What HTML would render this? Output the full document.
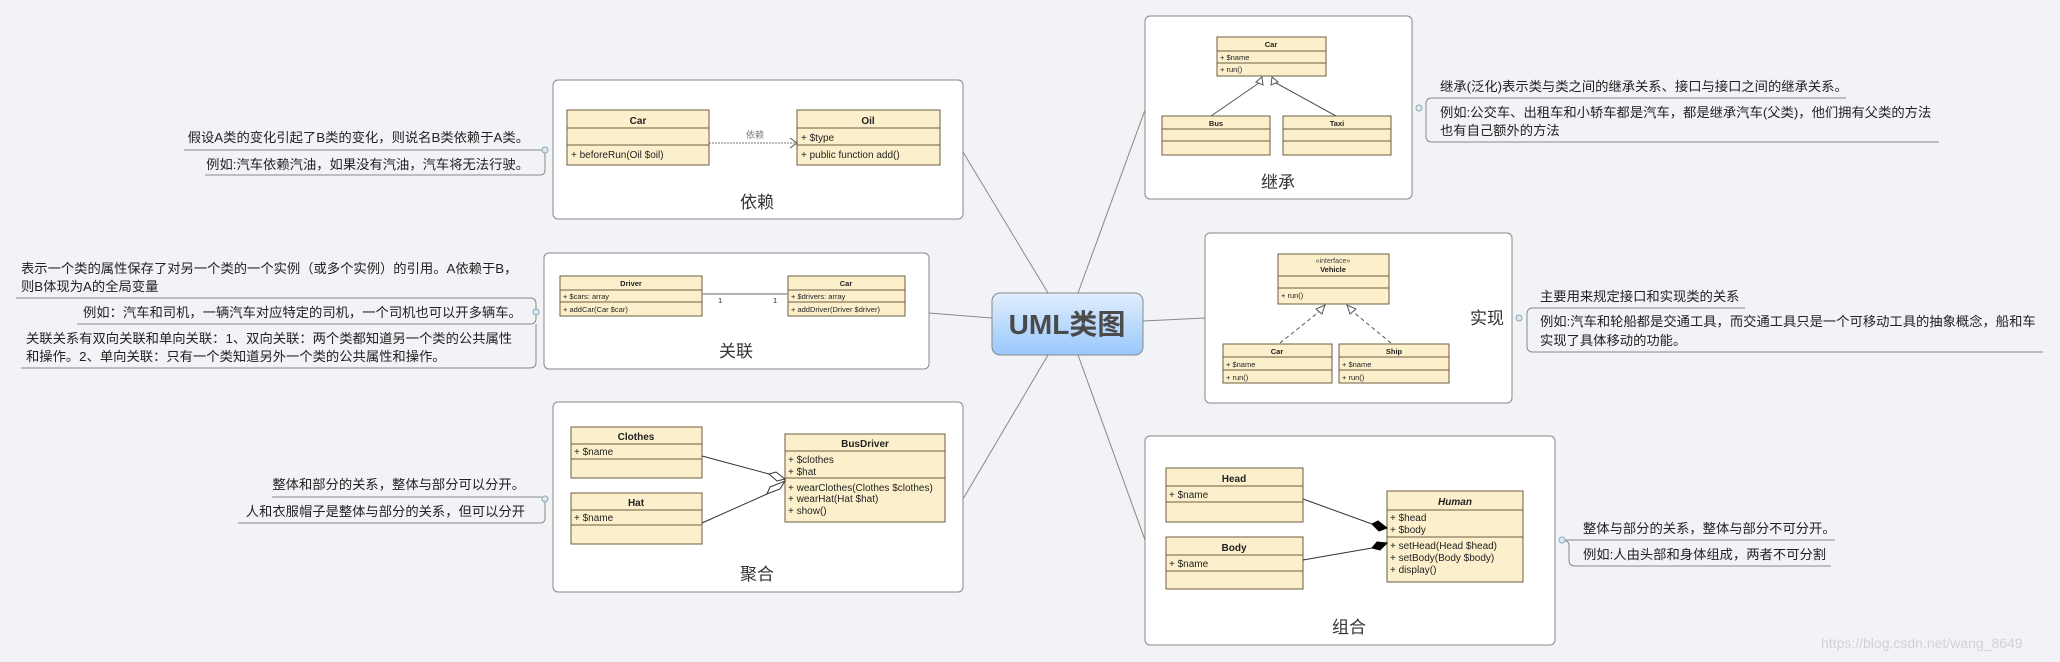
<!DOCTYPE html>
<html><head><meta charset="utf-8"><style>
html,body{margin:0;padding:0;background:#f2f3f7;}
svg{display:block;}
text{font-family:"Liberation Sans","Noto Sans CJK SC",sans-serif;fill:#222;}
.n{font-size:13.3px;}
.lb{font-size:17px;fill:#333;}
.cls{fill:#fcf0cc;stroke:#6e5d3e;stroke-width:1;}
.c{font-size:10px;}
.cb{font-size:10px;font-weight:bold;}
.s{font-size:7.5px;}
.sb{font-size:7.5px;font-weight:bold;}
.box{fill:#fff;stroke:#888;stroke-width:1;}
.ul{stroke:#888;stroke-width:1;fill:none;}
.br{stroke:#888;stroke-width:1;fill:none;}
</style></head><body>
<svg width="2060" height="662" viewBox="0 0 2060 662">
<defs>
<linearGradient id="g" x1="0" y1="0" x2="0" y2="1"><stop offset="0" stop-color="#e1eefd"/><stop offset="1" stop-color="#98c8fb"/></linearGradient>
</defs>
<path class="br" d="M963 152 L1048 293"/>
<path class="br" d="M929 313 L992 318"/>
<path class="br" d="M963 499 L1048 355"/>
<path class="br" d="M1145 110 L1078 293"/>
<path class="br" d="M1205 318 L1143 321"/>
<path class="br" d="M1145 540 L1078 355"/>
<rect x="992" y="293" width="151" height="62" rx="8" fill="url(#g)" stroke="#888"/>
<text x="1067" y="334" text-anchor="middle" style="font-size:28px;font-weight:bold;fill:#4a4a4a">UML类图</text>

<rect class="box" x="553" y="80" width="410" height="139" rx="5"/>
<rect class="cls" x="567" y="110" width="142" height="55"/>
<line class="cls" x1="567" y1="128" x2="709" y2="128"/><line class="cls" x1="567" y1="145" x2="709" y2="145"/>
<text class="cb" x="638" y="124" text-anchor="middle">Car</text>
<text class="c" x="571" y="158">+ beforeRun(Oil $oil)</text>
<rect class="cls" x="797" y="110" width="143" height="55"/>
<line class="cls" x1="797" y1="128" x2="940" y2="128"/><line class="cls" x1="797" y1="145" x2="940" y2="145"/>
<text class="cb" x="868" y="124" text-anchor="middle">Oil</text>
<text class="c" x="801" y="141">+ $type</text>
<text class="c" x="801" y="158">+ public function add()</text>
<line x1="709" y1="143" x2="797" y2="143" stroke="#777" stroke-dasharray="2,1"/>
<path d="M790 138 L797 143 L790 148" fill="none" stroke="#555"/>
<text x="755" y="138" text-anchor="middle" style="font-size:9px;fill:#777">依赖</text>
<text class="lb" x="757" y="208" text-anchor="middle">依赖</text>
<text class="n" x="529" y="142" text-anchor="end">假设A类的变化引起了B类的变化，则说名B类依赖于A类。</text>
<path class="ul" d="M184 150 L540 150 Q545 150 545 155 L545 170 Q545 175 540 175 L205 175"/>
<text class="n" x="529" y="169" text-anchor="end">例如:汽车依赖汽油，如果没有汽油，汽车将无法行驶。</text>
<circle cx="545" cy="150" r="3" fill="#dde8fb" stroke="#8aa"/>

<rect class="box" x="544" y="253" width="385" height="116" rx="5"/>
<rect class="cls" x="560" y="276" width="142" height="40"/>
<line class="cls" x1="560" y1="290" x2="702" y2="290"/><line class="cls" x1="560" y1="302" x2="702" y2="302"/>
<text class="sb" x="631" y="286" text-anchor="middle">Driver</text>
<text class="s" x="563" y="299">+ $cars: array</text>
<text class="s" x="563" y="312">+ addCar(Car $car)</text>
<rect class="cls" x="788" y="276" width="117" height="40"/>
<line class="cls" x1="788" y1="290" x2="905" y2="290"/><line class="cls" x1="788" y1="302" x2="905" y2="302"/>
<text class="sb" x="846" y="286" text-anchor="middle">Car</text>
<text class="s" x="791" y="299">+ $drivers: array</text>
<text class="s" x="791" y="312">+ addDriver(Driver $driver)</text>
<line x1="702" y1="294" x2="788" y2="294" stroke="#999" stroke-width="1.5"/>
<text class="s" x="718" y="303">1</text><text class="s" x="773" y="303">1</text>
<text class="lb" x="736" y="357" text-anchor="middle">关联</text>
<text class="n" x="21" y="273">表示一个类的属性保存了对另一个类的一个实例（或多个实例）的引用。A依赖于B，</text>
<text class="n" x="21" y="291">则B体现为A的全局变量</text>
<path class="ul" d="M16 298 L530 298 Q536 298 536 304 L536 318 Q536 324 530 324 L77 324"/>
<text class="n" x="83" y="317">例如：汽车和司机，一辆汽车对应特定的司机，一个司机也可以开多辆车。</text>
<text class="n" x="26" y="343">关联关系有双向关联和单向关联：1、双向关联：两个类都知道另一个类的公共属性</text>
<text class="n" x="26" y="361">和操作。2、单向关联：只有一个类知道另外一个类的公共属性和操作。</text>
<path class="ul" d="M536 324 L536 362 Q536 368 530 368 L21 368"/>
<circle cx="536" cy="312" r="3" fill="#dde8fb" stroke="#8aa"/>

<rect class="box" x="553" y="402" width="410" height="190" rx="5"/>
<rect class="cls" x="571" y="427" width="131" height="51"/>
<line class="cls" x1="571" y1="444" x2="702" y2="444"/><line class="cls" x1="571" y1="459" x2="702" y2="459"/>
<text class="cb" x="636" y="440" text-anchor="middle">Clothes</text>
<text class="c" x="574" y="455">+ $name</text>
<rect class="cls" x="571" y="493" width="131" height="51"/>
<line class="cls" x1="571" y1="510" x2="702" y2="510"/><line class="cls" x1="571" y1="525" x2="702" y2="525"/>
<text class="cb" x="636" y="506" text-anchor="middle">Hat</text>
<text class="c" x="574" y="521">+ $name</text>
<rect class="cls" x="785" y="434" width="160" height="88"/>
<line class="cls" x1="785" y1="451" x2="945" y2="451"/><line class="cls" x1="785" y1="478" x2="945" y2="478"/>
<text class="cb" x="865" y="447" text-anchor="middle">BusDriver</text>
<text class="c" x="788" y="463">+ $clothes</text>
<text class="c" x="788" y="475">+ $hat</text>
<text class="c" x="788" y="491">+ wearClothes(Clothes $clothes)</text>
<text class="c" x="788" y="502">+ wearHat(Hat $hat)</text>
<text class="c" x="788" y="514">+ show()</text>
<line x1="702" y1="456" x2="769" y2="474" stroke="#333"/>
<path d="M769 474 L776 472 L785 479 L777 481 Z" fill="#fff" stroke="#333"/>
<line x1="702" y1="523" x2="767" y2="494" stroke="#333"/>
<path d="M767 494 L770 487 L785 481 L780 489 Z" fill="#fff" stroke="#333"/>
<text class="lb" x="757" y="580" text-anchor="middle">聚合</text>
<text class="n" x="525" y="489" text-anchor="end">整体和部分的关系，整体与部分可以分开。</text>
<path class="ul" d="M272 497 L540 497 Q545 497 545 502 L545 518 Q545 523 540 523 L238 523"/>
<text class="n" x="525" y="516" text-anchor="end">人和衣服帽子是整体与部分的关系，但可以分开</text>
<circle cx="545" cy="499" r="3" fill="#dde8fb" stroke="#8aa"/>

<rect class="box" x="1145" y="16" width="267" height="183" rx="5"/>
<rect class="cls" x="1217" y="37" width="109" height="39"/>
<line class="cls" x1="1217" y1="51" x2="1326" y2="51"/><line class="cls" x1="1217" y1="63" x2="1326" y2="63"/>
<text class="sb" x="1271" y="47" text-anchor="middle">Car</text>
<text class="s" x="1220" y="60">+ $name</text><text class="s" x="1220" y="72">+ run()</text>
<rect class="cls" x="1162" y="116" width="108" height="39"/>
<line class="cls" x1="1162" y1="129" x2="1270" y2="129"/><line class="cls" x1="1162" y1="141" x2="1270" y2="141"/>
<text class="sb" x="1216" y="126" text-anchor="middle">Bus</text>
<rect class="cls" x="1283" y="116" width="108" height="39"/>
<line class="cls" x1="1283" y1="129" x2="1391" y2="129"/><line class="cls" x1="1283" y1="141" x2="1391" y2="141"/>
<text class="sb" x="1337" y="126" text-anchor="middle">Taxi</text>
<line x1="1211" y1="116" x2="1259" y2="83" stroke="#555"/>
<line x1="1336" y1="116" x2="1276" y2="83" stroke="#555"/>
<path d="M1262 77 L1263 85 L1256 82 Z M1272 77 L1271 85 L1278 82 Z" fill="#fff" stroke="#555"/>
<text class="lb" x="1278" y="188" text-anchor="middle">继承</text>
<text class="n" x="1440" y="91">继承(泛化)表示类与类之间的继承关系、接口与接口之间的继承关系。</text>
<path class="ul" d="M1846 98 L1432 98 Q1426 98 1426 104 L1426 136 Q1426 142 1432 142 L1939 142"/>
<text class="n" x="1440" y="117">例如:公交车、出租车和小轿车都是汽车，都是继承汽车(父类)，他们拥有父类的方法</text>
<text class="n" x="1440" y="135">也有自己额外的方法</text>
<circle cx="1419" cy="108" r="3" fill="#dde8fb" stroke="#8aa"/>

<rect class="box" x="1205" y="233" width="307" height="170" rx="5"/>
<rect class="cls" x="1278" y="254" width="111" height="50"/>
<line class="cls" x1="1278" y1="276" x2="1389" y2="276"/><line class="cls" x1="1278" y1="288" x2="1389" y2="288"/>
<text x="1333" y="263" text-anchor="middle" style="font-size:7px;fill:#444">«interface»</text>
<text class="sb" x="1333" y="272" text-anchor="middle">Vehicle</text>
<text class="s" x="1281" y="298">+ run()</text>
<rect class="cls" x="1223" y="344" width="109" height="39"/>
<line class="cls" x1="1223" y1="357" x2="1332" y2="357"/><line class="cls" x1="1223" y1="370" x2="1332" y2="370"/>
<text class="sb" x="1277" y="354" text-anchor="middle">Car</text>
<text class="s" x="1226" y="367">+ $name</text><text class="s" x="1226" y="380">+ run()</text>
<rect class="cls" x="1339" y="344" width="110" height="39"/>
<line class="cls" x1="1339" y1="357" x2="1449" y2="357"/><line class="cls" x1="1339" y1="370" x2="1449" y2="370"/>
<text class="sb" x="1394" y="354" text-anchor="middle">Ship</text>
<text class="s" x="1342" y="367">+ $name</text><text class="s" x="1342" y="380">+ run()</text>
<line x1="1280" y1="343" x2="1320" y2="311" stroke="#555" stroke-dasharray="4,3"/>
<line x1="1391" y1="343" x2="1352" y2="311" stroke="#555" stroke-dasharray="4,3"/>
<path d="M1325 305 L1322 314 L1316 309 Z M1347 305 L1350 314 L1356 309 Z" fill="#fff" stroke="#555"/>
<text class="lb" x="1487" y="324" text-anchor="middle">实现</text>
<text class="n" x="1540" y="301">主要用来规定接口和实现类的关系</text>
<path class="ul" d="M1745 308 L1533 308 Q1527 308 1527 314 L1527 346 Q1527 352 1533 352 L2043 352"/>
<text class="n" x="1540" y="326">例如:汽车和轮船都是交通工具，而交通工具只是一个可移动工具的抽象概念，船和车</text>
<text class="n" x="1540" y="345">实现了具体移动的功能。</text>
<circle cx="1519" cy="318" r="3" fill="#dde8fb" stroke="#8aa"/>

<rect class="box" x="1145" y="436" width="410" height="209" rx="5"/>
<rect class="cls" x="1166" y="468" width="137" height="54"/>
<line class="cls" x1="1166" y1="486" x2="1303" y2="486"/><line class="cls" x1="1166" y1="502" x2="1303" y2="502"/>
<text class="cb" x="1234" y="482" text-anchor="middle">Head</text>
<text class="c" x="1169" y="498">+ $name</text>
<rect class="cls" x="1166" y="537" width="137" height="52"/>
<line class="cls" x1="1166" y1="555" x2="1303" y2="555"/><line class="cls" x1="1166" y1="571" x2="1303" y2="571"/>
<text class="cb" x="1234" y="551" text-anchor="middle">Body</text>
<text class="c" x="1169" y="567">+ $name</text>
<rect class="cls" x="1387" y="491" width="136" height="91"/>
<line class="cls" x1="1387" y1="510" x2="1523" y2="510"/><line class="cls" x1="1387" y1="537" x2="1523" y2="537"/>
<text class="cb" x="1455" y="505" text-anchor="middle" style="font-style:italic">Human</text>
<text class="c" x="1390" y="521">+ $head</text>
<text class="c" x="1390" y="533">+ $body</text>
<text class="c" x="1390" y="549">+ setHead(Head $head)</text>
<text class="c" x="1390" y="561">+ setBody(Body $body)</text>
<text class="c" x="1390" y="573">+ display()</text>
<line x1="1303" y1="499" x2="1372" y2="524" stroke="#333"/>
<path d="M1372 524 L1378 521 L1387 528 L1379 531 Z" fill="#000" stroke="#000"/>
<line x1="1303" y1="560" x2="1372" y2="548" stroke="#333"/>
<path d="M1372 548 L1377 542 L1387 543 L1380 550 Z" fill="#000" stroke="#000"/>
<text class="lb" x="1349" y="633" text-anchor="middle">组合</text>
<text class="n" x="1583" y="533">整体与部分的关系，整体与部分不可分开。</text>
<path class="ul" d="M1835 540 L1562 540 Q1569 540 1569 546 L1569 560 Q1569 566 1575 566 L1831 566"/>
<text class="n" x="1583" y="559">例如:人由头部和身体组成，两者不可分割</text>
<circle cx="1562" cy="540" r="3" fill="#dde8fb" stroke="#8aa"/>

<text x="1821" y="648" style="font-size:14px;fill:#d0d2d8">https://blog.csdn.net/wang_8649</text>
</svg>
</body></html>
